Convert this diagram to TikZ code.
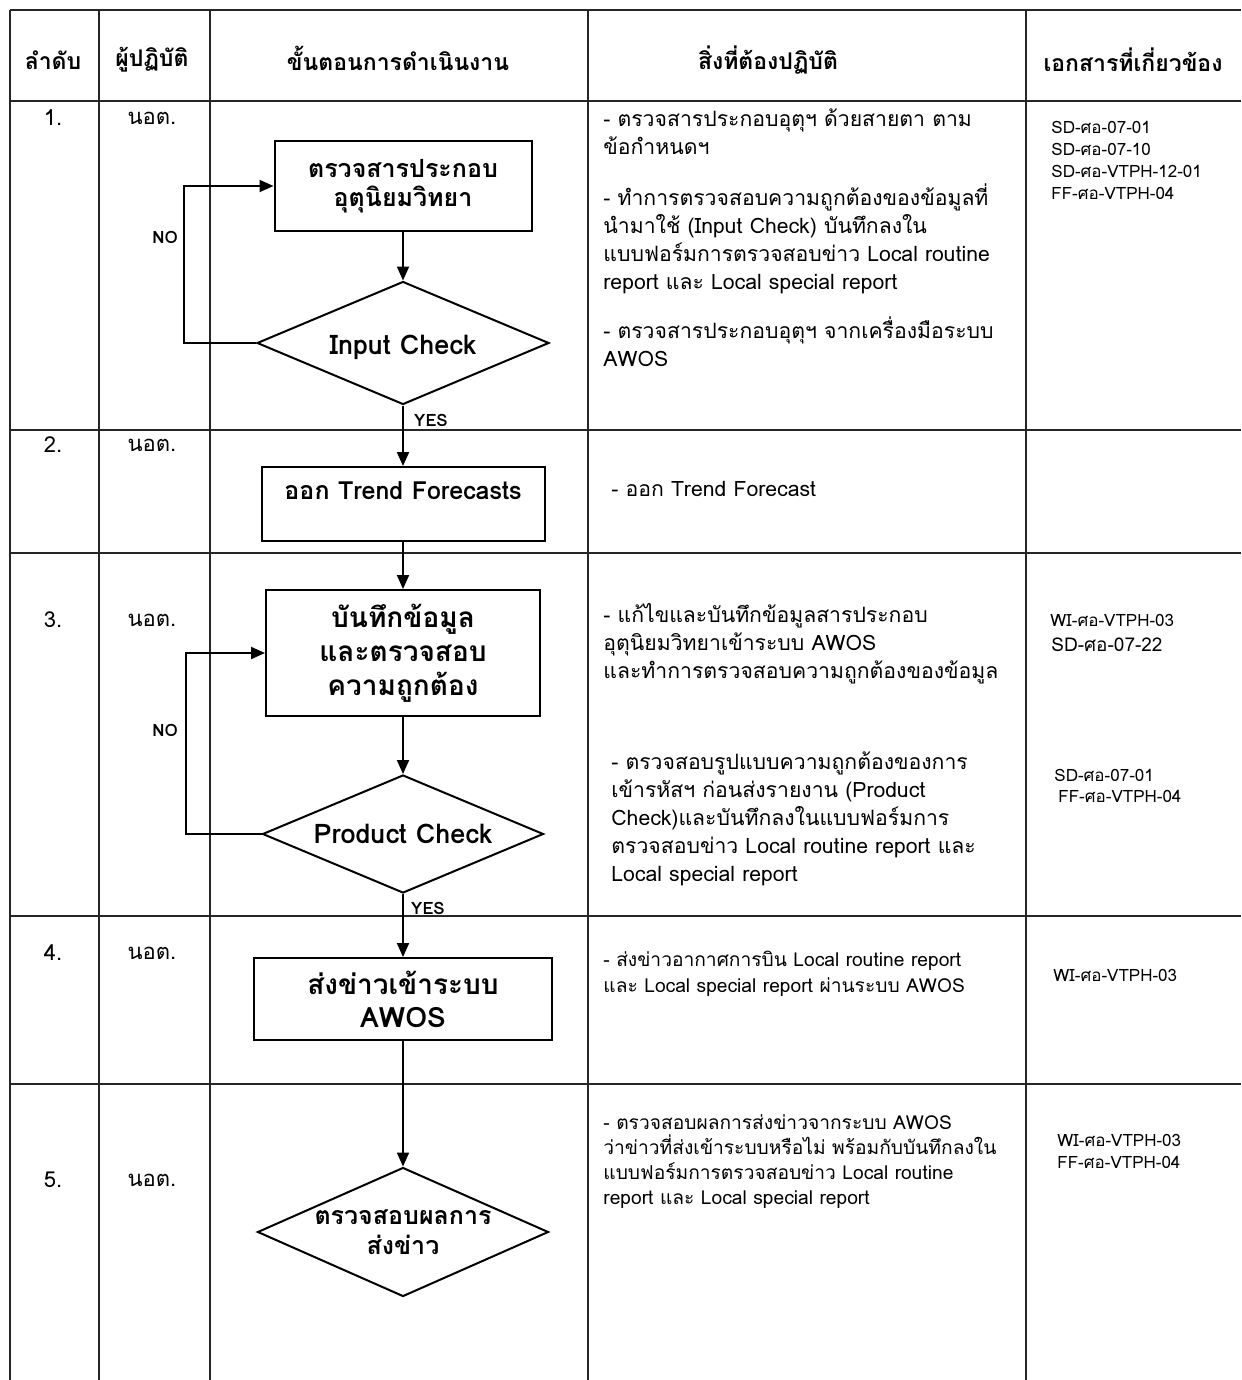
\documentclass[tikz,border=0pt]{standalone}
\usepackage{fontspec}
\setmainfont{Loma}[Script=Thai]
\usetikzlibrary{shapes.geometric,arrows.meta}

\tikzset{
  table line/.style={line width=0.8pt,black!85},
  stepbox/.style={draw,line width=1pt,rectangle,align=center,inner sep=0pt},
  checkbox/.style={draw,line width=1pt,diamond,aspect=2.4,inner sep=0pt,align=center},
  flow/.style={line width=1pt,-{Triangle[length=7pt,width=6pt]}},
  head/.style={font=\bfseries\fontsize{11.5}{13}\selectfont},
  rowtext/.style={font=\fontsize{11}{13}\selectfont},
  body/.style={anchor=north west,align=left,inner sep=0pt,font=\fontsize{10.6}{14}\selectfont},
  docs/.style={anchor=west,align=left,inner sep=0pt,font=\fontsize{8.5}{11}\selectfont},
  tag/.style={font=\bfseries\fontsize{8.5}{10}\selectfont}
}

\begin{document}
\begin{tikzpicture}[x=0.5pt,y=-0.5pt]
        \useasboundingbox (0,0) rectangle (1241,1380);
        \foreach \y in {10,101,430,553,916,1084} \draw[table line] (10,\y) -- (1241,\y);
        \foreach \x in {10,99,210,588,1026} \draw[table line] (\x,10) -- (\x,1380);

        \node[head] (h1) at (53,60) {ลำดับ};
        \node[head] (h2) at (152,60) {ผู้ปฏิบัติ};
        \node[head] (h3) at (398,58) {ขั้นตอนการดำเนินงาน};
        \node[head] (h4) at (768,60) {สิ่งที่ต้องปฏิบัติ};
        \node[head] (h5) at (1133,60) {เอกสารที่เกี่ยวข้อง};

        \foreach \n/\y in {1/118,2/445,3/620,4/953,5/1180} {
            \node[rowtext] (num\n) at (53,\y) {\n.};
            \node[rowtext] (who\n) at (152,\y) {นอต.};
        }

        \node[stepbox,minimum width=128.5pt,minimum height=45pt,font=\bfseries\fontsize{12.5}{14.5}\selectfont] (b1) at (403,186) {ตรวจสารประกอบ\\อุตุนิยมวิทยา};
        \node[checkbox,minimum width=146pt,minimum height=61.5pt,text height=14pt,font=\bfseries\fontsize{13.5}{15}\selectfont] (d1) at (403,343) {Input Check};
        \node[stepbox,minimum width=141.5pt,minimum height=37pt,text depth=13pt,font=\bfseries\fontsize{12.5}{14}\selectfont] (b2) at (403,504) {ออก Trend Forecasts};
        \node[stepbox,minimum width=137pt,minimum height=63pt,font=\bfseries\fontsize{14}{17}\selectfont] (b3) at (403,653) {บันทึกข้อมูล\\และตรวจสอบ\\ความถูกต้อง};
        \node[checkbox,minimum width=140.5pt,minimum height=59pt,font=\bfseries\fontsize{13.5}{15}\selectfont] (d2) at (403,834) {Product Check};
        \node[stepbox,minimum width=149pt,minimum height=41pt,font=\bfseries\fontsize{14}{16.5}\selectfont] (b4) at (403,999) {ส่งข่าวเข้าระบบ\\AWOS};
        \node[checkbox,minimum width=145.5pt,minimum height=64.5pt,inner xsep=-12pt,inner ysep=-7pt,font=\bfseries\fontsize{12.5}{15}\selectfont] (d3) at (403,1232) {ตรวจสอบผลการ\\ส่งข่าว};

        \draw[flow] (b1) -- (d1);
        \draw[flow] (d1) -- (b2);
        \draw[flow] (b2) -- (b3);
        \draw[flow] (b3) -- (d2);
        \draw[flow] (d2) -- (b4);
        \draw[flow] (b4) -- (d3);
        \draw[flow] (d1.west) -- ++(-72,0) |- (b1.west);
        \draw[flow] (d2.west) -- ++(-76,0) |- (b3.west);

        \node[tag] (no1) at (165,237) {NO};
        \node[tag] (yes1) at (431,420) {YES};
        \node[tag] (no2) at (165,730) {NO};
        \node[tag] (yes2) at (428,908) {YES};

        \node[body] (t1a) at (603,108) {- ตรวจสารประกอบอุตุฯ ด้วยสายตา ตาม\\ข้อกำหนดฯ};
        \node[body] (t1b) at (603,183) {- ทำการตรวจสอบความถูกต้องของข้อมูลที่\\นำมาใช้ (Input Check) บันทึกลงใน\\แบบฟอร์มการตรวจสอบข่าว Local routine\\report และ Local special report};
        \node[body] (t1c) at (603,316) {- ตรวจสารประกอบอุตุฯ จากเครื่องมือระบบ\\AWOS};
        \node[body] (t2) at (611,481) {- ออก Trend Forecast};
        \node[body] (t3a) at (603,603) {- แก้ไขและบันทึกข้อมูลสารประกอบ\\อุตุนิยมวิทยาเข้าระบบ AWOS\\และทำการตรวจสอบความถูกต้องของข้อมูล};
        \node[body] (t3b) at (611,751) {- ตรวจสอบรูปแบบความถูกต้องของการ\\เข้ารหัสฯ ก่อนส่งรายงาน (Product\\Check)และบันทึกลงในแบบฟอร์มการ\\ตรวจสอบข่าว Local routine report และ\\Local special report};
        \node[body,font=\fontsize{9.6}{13}\selectfont] (t4) at (603,951) {- ส่งข่าวอากาศการบิน Local routine report\\และ Local special report ผ่านระบบ AWOS};
        \node[body,font=\fontsize{9.6}{12.5}\selectfont] (t5) at (603,1114) {- ตรวจสอบผลการส่งข่าวจากระบบ AWOS\\ว่าข่าวที่ส่งเข้าระบบหรือไม่ พร้อมกับบันทึกลงใน\\แบบฟอร์มการตรวจสอบข่าว Local routine\\report และ Local special report};

        \node[docs,anchor=north west] (doc1) at (1051,121) {SD-ศอ-07-01\\SD-ศอ-07-10\\SD-ศอ-VTPH-12-01\\FF-ศอ-VTPH-04};
        \node[docs] (doc3a) at (1050,620) {WI-ศอ-VTPH-03};
        \node[docs,font=\fontsize{9.5}{12}\selectfont] (doc3b) at (1051,645) {SD-ศอ-07-22};
        \node[docs] (doc3c) at (1054,775) {SD-ศอ-07-01};
        \node[docs] (doc3d) at (1058,796) {FF-ศอ-VTPH-04};
        \node[docs] (doc4) at (1053,975) {WI-ศอ-VTPH-03};
        \node[docs] (doc5a) at (1057,1140) {WI-ศอ-VTPH-03};
        \node[docs] (doc5b) at (1057,1162) {FF-ศอ-VTPH-04};
    \end{tikzpicture}
\end{document}
